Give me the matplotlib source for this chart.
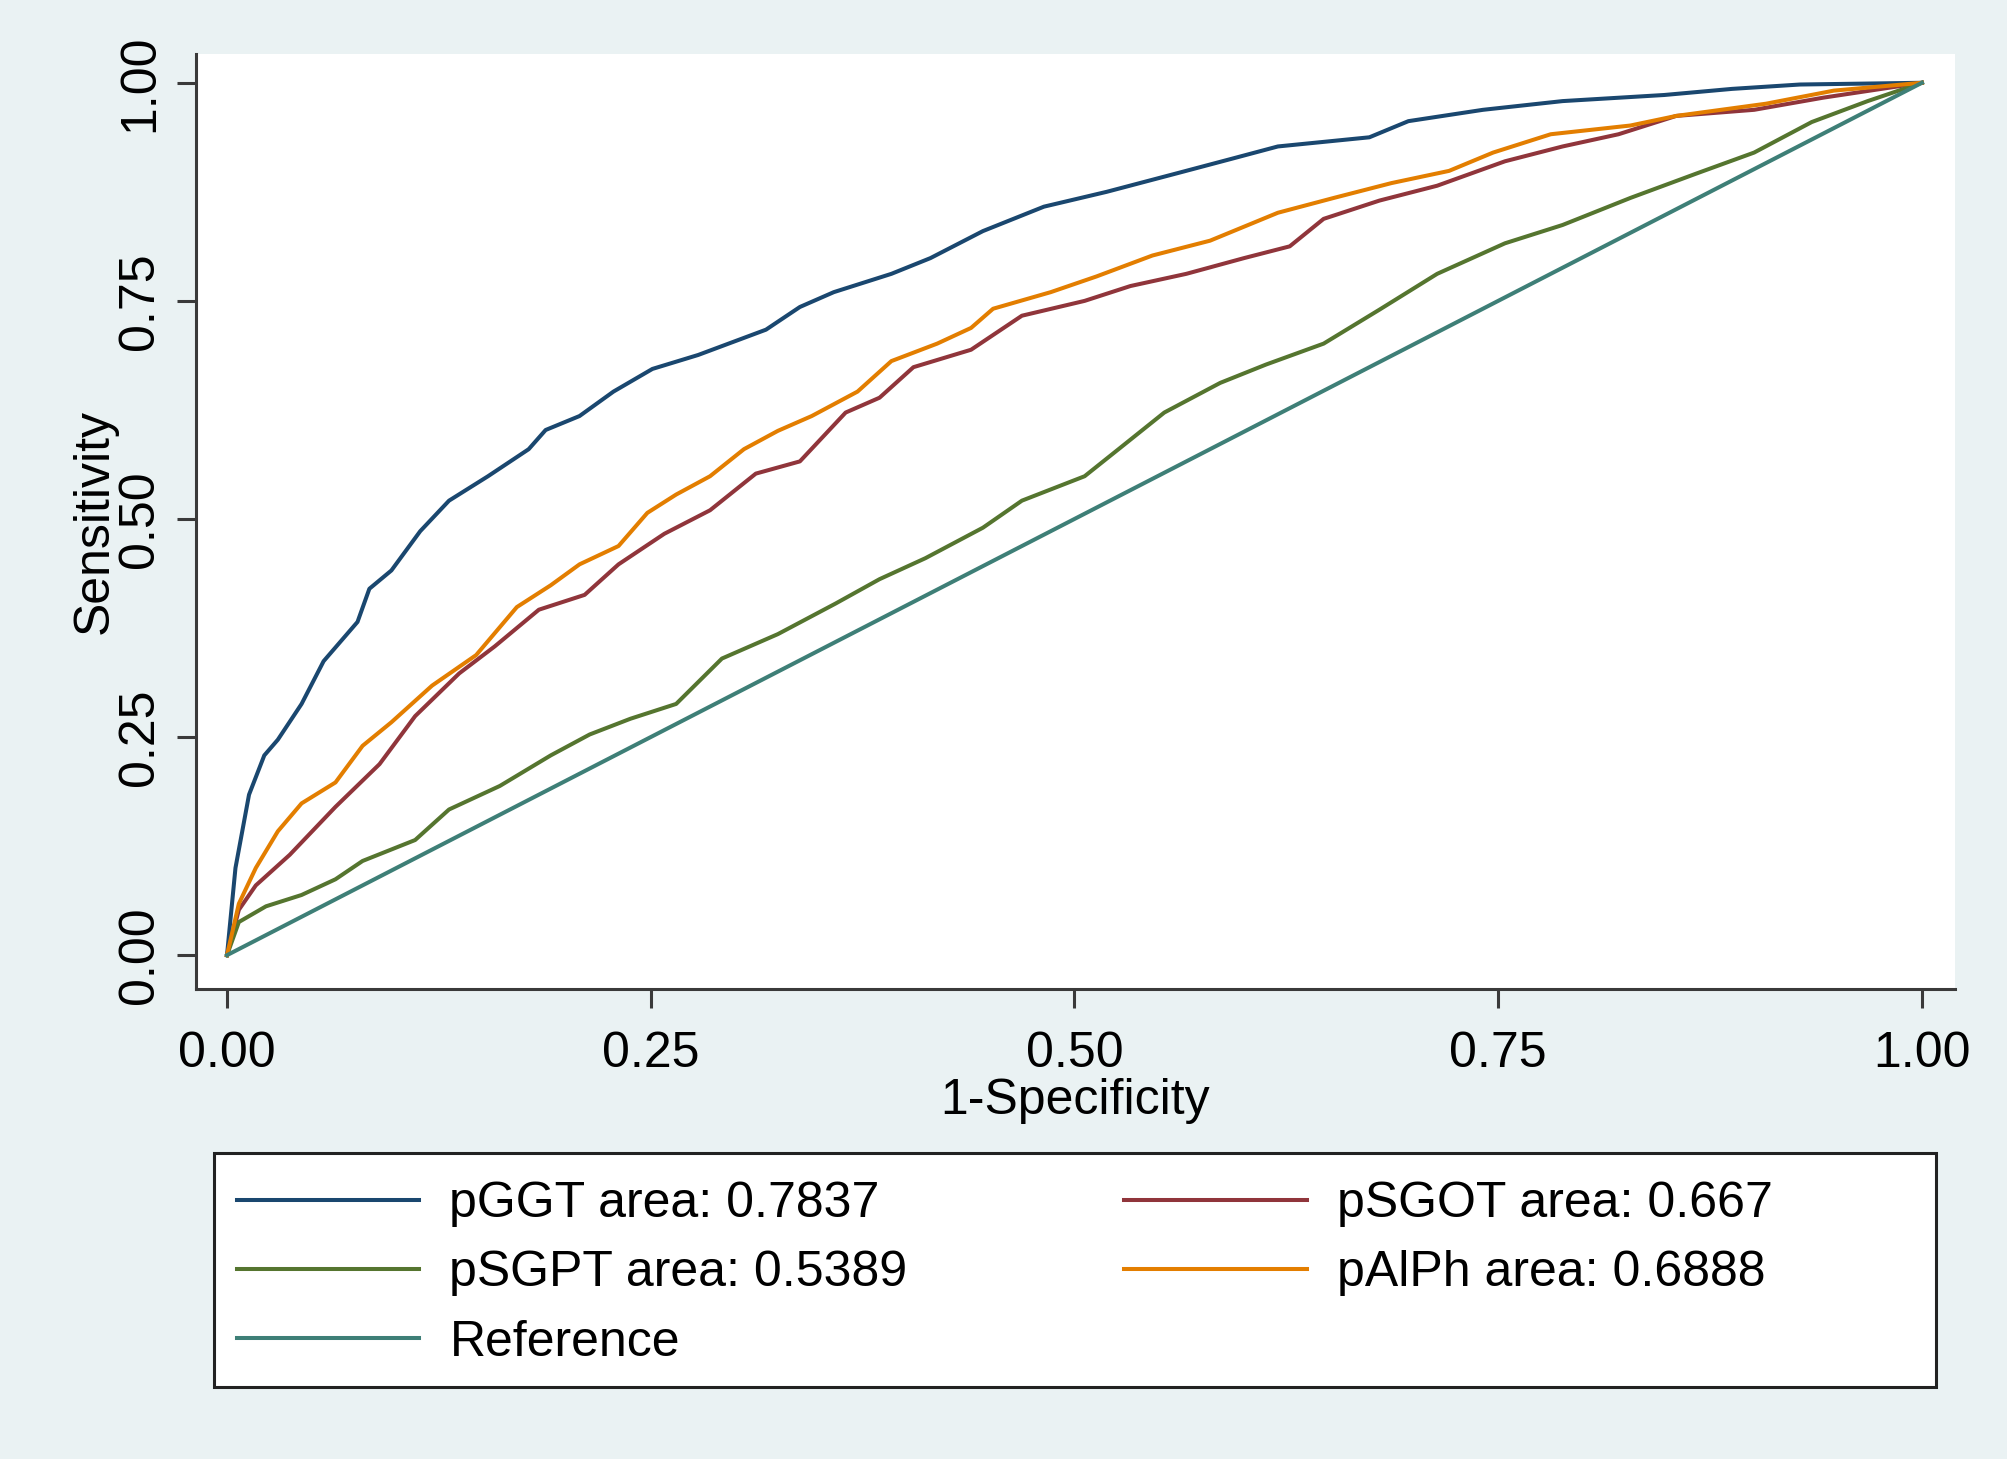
import matplotlib
matplotlib.use('Agg')
import matplotlib.pyplot as plt
from matplotlib.patches import Rectangle

plt.rcParams['font.family'] = ['Liberation Sans', 'DejaVu Sans']

# ROC points (1-specificity, sensitivity)
ggt_x = [0, 0.005, 0.013, 0.022, 0.030, 0.044, 0.057, 0.077, 0.084, 0.097, 0.114, 0.131,
         0.154, 0.178, 0.188, 0.208, 0.228, 0.251, 0.278, 0.318, 0.338, 0.358, 0.392, 0.415,
         0.446, 0.482, 0.519, 0.56, 0.593, 0.62, 0.674, 0.697, 0.741, 0.788, 0.848, 0.888, 0.928, 1]
ggt_y = [0, 0.10, 0.184, 0.229, 0.247, 0.288, 0.337, 0.382, 0.42, 0.441, 0.486, 0.521,
         0.549, 0.58, 0.602, 0.618, 0.646, 0.672, 0.688, 0.717, 0.743, 0.760, 0.781, 0.799,
         0.830, 0.858, 0.875, 0.896, 0.913, 0.927, 0.9375, 0.956, 0.969, 0.979, 0.986, 0.993, 0.998, 1]

sgot_x = [0, 0.007, 0.017, 0.037, 0.064, 0.090, 0.111, 0.137, 0.158, 0.184, 0.211, 0.231,
          0.258, 0.285, 0.312, 0.338, 0.365, 0.385, 0.405, 0.439, 0.469, 0.506, 0.533, 0.566,
          0.60, 0.627, 0.647, 0.680, 0.714, 0.754, 0.788, 0.821, 0.855, 0.901, 0.942, 1]
sgot_y = [0, 0.052, 0.08, 0.115, 0.170, 0.219, 0.274, 0.323, 0.354, 0.396, 0.413, 0.448,
          0.483, 0.510, 0.552, 0.566, 0.622, 0.639, 0.674, 0.694, 0.733, 0.75, 0.767, 0.781,
          0.799, 0.8125, 0.844, 0.865, 0.882, 0.91, 0.927, 0.941, 0.962, 0.969, 0.983, 1]

sgpt_x = [0, 0.007, 0.023, 0.044, 0.064, 0.080, 0.111, 0.131, 0.161, 0.191, 0.214, 0.238,
          0.265, 0.292, 0.325, 0.359, 0.385, 0.412, 0.446, 0.469, 0.506, 0.526, 0.553, 0.586,
          0.613, 0.647, 0.680, 0.714, 0.754, 0.788, 0.828, 0.867, 0.901, 0.935, 0.968, 1]
sgpt_y = [0, 0.038, 0.056, 0.069, 0.087, 0.108, 0.132, 0.167, 0.194, 0.229, 0.253, 0.271,
          0.288, 0.340, 0.368, 0.403, 0.431, 0.455, 0.490, 0.521, 0.549, 0.58, 0.622, 0.656,
          0.677, 0.701, 0.74, 0.781, 0.816, 0.837, 0.868, 0.896, 0.92, 0.955, 0.979, 1]

alph_x = [0, 0.007, 0.017, 0.030, 0.044, 0.064, 0.080, 0.097, 0.121, 0.147, 0.171, 0.191,
          0.208, 0.231, 0.248, 0.265, 0.285, 0.305, 0.325, 0.345, 0.372, 0.392, 0.419, 0.439,
          0.452, 0.486, 0.513, 0.546, 0.58, 0.62, 0.653, 0.687, 0.721, 0.747, 0.781, 0.828,
          0.855, 0.908, 0.948, 1]
alph_y = [0, 0.059, 0.10, 0.142, 0.174, 0.198, 0.24, 0.267, 0.309, 0.344, 0.399, 0.424,
          0.448, 0.469, 0.507, 0.528, 0.549, 0.58, 0.601, 0.618, 0.646, 0.681, 0.701, 0.719,
          0.741, 0.760, 0.778, 0.802, 0.819, 0.851, 0.868, 0.885, 0.899, 0.92, 0.941, 0.951,
          0.962, 0.976, 0.991, 1]

ref_x = [0, 1]
ref_y = [0, 1]

ticks = [0, 0.25, 0.5, 0.75, 1]
tick_labels = ["0.00", "0.25", "0.50", "0.75", "1.00"]

bg = '#EAF2F3'
fs = 36
lw = 2.9

fig = plt.figure(figsize=(20.08, 14.59), dpi=100, facecolor=bg)
ax = fig.add_axes([0.0976, 0.322, 0.876, 0.641])
ax.set_facecolor('white')

l_ggt, = ax.plot(ggt_x, ggt_y, color='#1A476F', lw=lw, label='pGGT area: 0.7837')
l_sgot, = ax.plot(sgot_x, sgot_y, color='#90353B', lw=lw, label='pSGOT area: 0.667')
l_sgpt, = ax.plot(sgpt_x, sgpt_y, color='#55752F', lw=lw, label='pSGPT area: 0.5389')
l_alph, = ax.plot(alph_x, alph_y, color='#E37E00', lw=lw, label='pAlPh area: 0.6888')
l_ref, = ax.plot(ref_x, ref_y, color='#3E7F77', lw=lw, label='Reference')

ax.set_xlim(-0.0183, 1.0195)
ax.set_ylim(-0.039, 1.033)
ax.set_xticks(ticks)
ax.set_xticklabels(tick_labels)
ax.set_yticks(ticks)
ax.set_yticklabels(tick_labels, rotation=90, va='center')

for side in ['top', 'right']:
    ax.spines[side].set_visible(False)
for side in ['left', 'bottom']:
    ax.spines[side].set_color('#3a3a3a')
    ax.spines[side].set_linewidth(2.2)

ax.tick_params(axis='both', labelsize=fs, length=14, width=2.2, color='#3a3a3a')
ax.tick_params(axis='x', pad=16)
ax.tick_params(axis='y', pad=9.5)
ax.set_xlabel('1-Specificity', fontsize=fs, labelpad=0.5)
ax.set_ylabel('Sensitivity', fontsize=fs, labelpad=0)

# legend box
fig.patches.append(Rectangle((0.1066, 0.0493), 0.8576, 0.1604, transform=fig.transFigure,
                             facecolor='white', edgecolor='#222222', lw=2.2, zorder=0))
fig.legend([l_ggt, l_sgpt, l_ref, l_sgot, l_alph],
           [l_ggt.get_label(), l_sgpt.get_label(), l_ref.get_label(),
            l_sgot.get_label(), l_alph.get_label()],
           ncol=2, frameon=False, fontsize=fs, loc='upper left',
           bbox_to_anchor=(0.118, 0.1905), borderaxespad=0, borderpad=0,
           handlelength=3.65, handletextpad=0.6, columnspacing=4.33, labelspacing=0.465)

fig.savefig('out.png', dpi=100, facecolor=bg)
